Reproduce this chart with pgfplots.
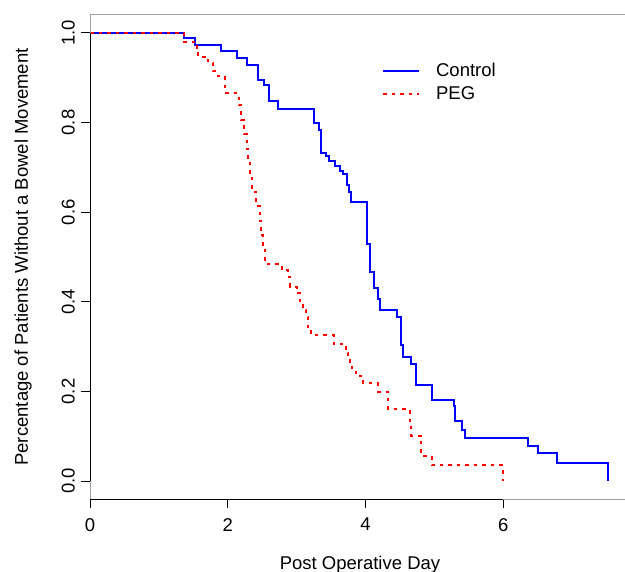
\documentclass[border=0pt]{standalone}
\usepackage{fontspec}
\setmainfont{Liberation Sans}
\usepackage{pgfplots}
\pgfplotsset{compat=1.18}

\definecolor{ctrlblue}{HTML}{0000FF}
\definecolor{pegred}{HTML}{FF0000}

\begin{document}
\fontsize{11.1bp}{13bp}\selectfont
\begin{tikzpicture}
\useasboundingbox (0,0) rectangle (375bp,343.2bp);
\begin{axis}[
  at={(54bp,43.8bp)}, anchor=south west,
  scale only axis, width=324bp, height=290.4bp,
  xmin=0, xmax=7.84, ymin=-0.04, ymax=1.04,
  clip=false,
  axis line style={draw=none},
  xtick={0,2,4,6},
  ytick={0,0.2,0.4,0.6,0.8,1.0},
  xtick pos=lower, ytick pos=left,
  tick align=outside,
  major tick length=5.2bp,
  every tick/.style={black, line width=0.6bp},
  /pgf/number format/assume math mode=true,
  xticklabel style={yshift=-2.4bp},
  yticklabel style={rotate=90, anchor=south,
    /pgf/number format/fixed, /pgf/number format/fixed zerofill,
    /pgf/number format/precision=1},
  xlabel={Post Operative Day},
  ylabel={Percentage of Patients Without a Bowel Movement},
  xlabel style={at={(axis description cs:0.5,-0.136)}, anchor=center},
  ylabel style={at={(axis description cs:-0.124,0.5)}, anchor=center},
  legend cell align=left,
  legend image code/.code={\draw[#1] (0bp,0bp) -- (21.6bp,0bp);},
  legend style={at={(axis description cs:0.5410,0.8605)}, anchor=west,
    draw=none, fill=none, inner sep=0pt, row sep=4bp,
    nodes={inner sep=0pt},
    /tikz/every odd column/.append style={column sep=9.4bp}},
]
\addplot[const plot, ctrlblue, line width=1.2bp] coordinates {
  (0,1) (1.362,0.988) (1.521,0.972) (1.909,0.960) (2.128,0.944) (2.277,0.929)
  (2.446,0.895) (2.525,0.883) (2.595,0.847) (2.734,0.831) (3.256,0.798)
  (3.324,0.783) (3.347,0.733) (3.425,0.725) (3.474,0.714) (3.551,0.703)
  (3.629,0.692) (3.668,0.685) (3.725,0.661) (3.764,0.646) (3.788,0.623)
  (4.017,0.529) (4.066,0.466) (4.116,0.454) (4.126,0.431) (4.186,0.406)
  (4.205,0.381) (4.454,0.367) (4.514,0.304) (4.543,0.276) (4.663,0.261)
  (4.732,0.214) (4.971,0.181) (5.279,0.167) (5.299,0.133) (5.399,0.114)
  (5.438,0.096) (6.353,0.079) (6.502,0.062) (6.780,0.041) (7.516,0)
};
\addlegendentry{Control}
\addplot[const plot, pegred, line width=1.2bp, dash pattern=on 2.1bp off 3bp] coordinates {
  (0,1) (1.362,0.98) (1.551,0.965) (1.571,0.947) (1.720,0.932) (1.790,0.914)
  (1.859,0.903) (1.959,0.865) (2.162,0.839) (2.197,0.806) (2.237,0.774)
  (2.277,0.742) (2.297,0.710) (2.326,0.677) (2.356,0.645) (2.416,0.613)
  (2.466,0.581) (2.486,0.548) (2.515,0.516) (2.545,0.484) (2.784,0.471)
  (2.873,0.456) (2.903,0.434) (3.002,0.419) (3.052,0.397) (3.092,0.382)
  (3.142,0.367) (3.171,0.337) (3.211,0.326) (3.539,0.305) (3.718,0.285)
  (3.748,0.270) (3.768,0.255) (3.808,0.244) (3.857,0.234) (3.967,0.219)
  (4.186,0.199) (4.320,0.181) (4.330,0.160) (4.643,0.13) (4.663,0.101)
  (4.812,0.056) (4.961,0.035) (5.99,0)
};
\addlegendentry{PEG}
% box (grey) and axis lines (black), R style
\draw[gray!75, line width=0.6bp] (rel axis cs:1.05,1) -- (rel axis cs:0,1)
  -- (rel axis cs:0,0) -- (rel axis cs:1.05,0);
\draw[black, line width=0.6bp] (axis cs:0,-0.04) -- (axis cs:6,-0.04);
\draw[black, line width=0.6bp] (axis cs:0,0) -- (axis cs:0,1);
\end{axis}
\end{tikzpicture}
\end{document}
